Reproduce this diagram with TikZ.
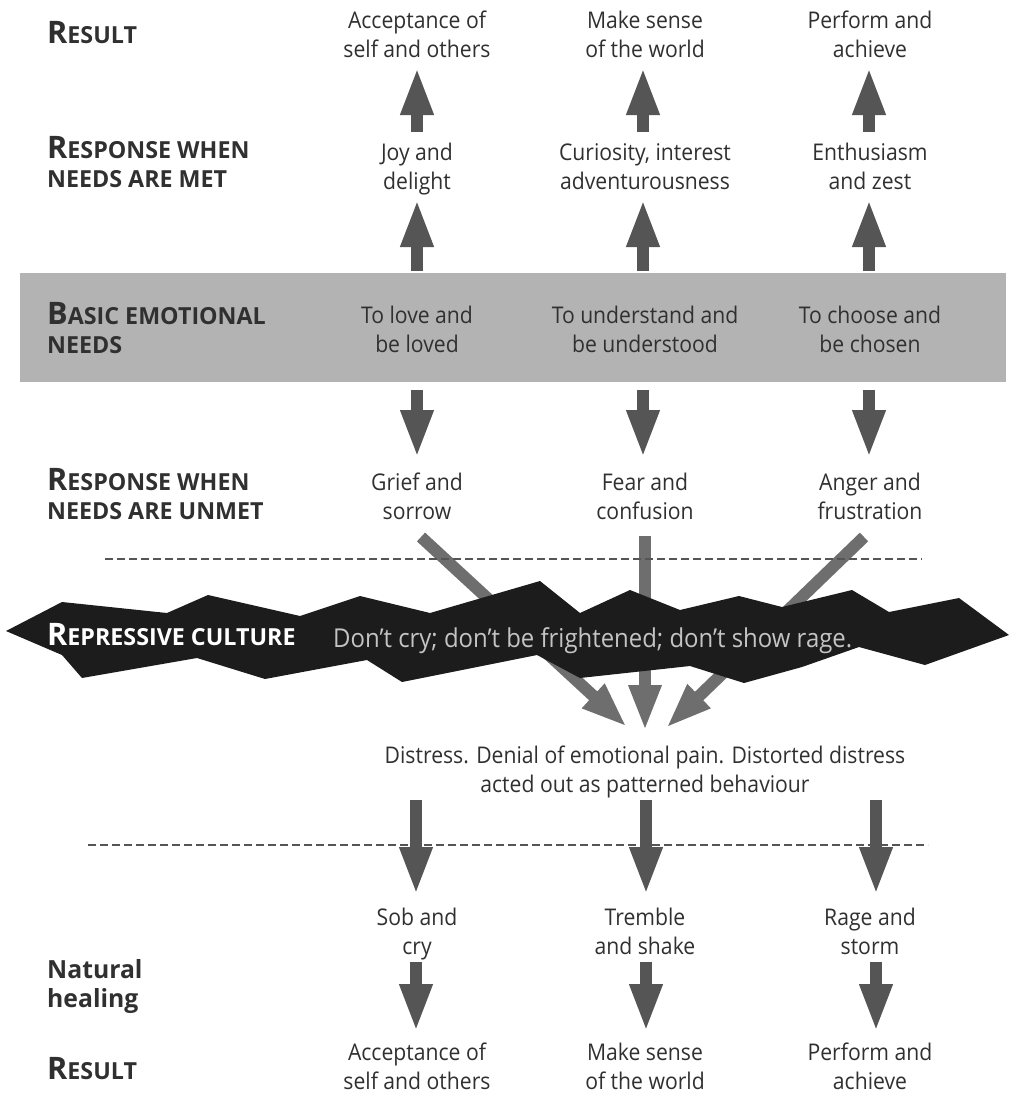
\documentclass[tikz,border=0pt]{standalone}
\usepackage{fontspec}
\setmainfont{Open Sans}[FakeStretch=0.92]
\newfontfamily\lblfont{Open Sans}[FakeStretch=0.99]
\usetikzlibrary{arrows.meta}

\definecolor{ink}{HTML}{303030}
\definecolor{arrowgray}{HTML}{555555}
\definecolor{slantgray}{HTML}{6E6E6E}
\definecolor{needsgray}{HTML}{B3B3B3}
\definecolor{mottogray}{HTML}{C4C4C4}
\definecolor{bandblack}{HTML}{1C1C1C}

% capital followed by smaller capitals
\newcommand\capsc[2]{{\fontsize{31}{31}\selectfont #1}#2}
% two centred / left-aligned lines, baseline on the first line
\newcommand\twoc[2]{\begin{tabular}[t]{@{}c@{}}#1\\#2\end{tabular}}
\newcommand\twol[2]{\begin{tabular}[t]{@{}l@{}}#1\\#2\end{tabular}}

\tikzset{
  txt/.style={inner sep=0pt, anchor=base, text=ink,
    font={\fontsize{23}{29.5}\selectfont}},
  lbl/.style={inner sep=0pt, anchor=base west, text=ink,
    font={\lblfont\bfseries\fontsize{23.5}{29.5}\selectfont}},
  blockarrow/.style={draw=arrowgray, line width=12pt, line cap=butt,
    -{Triangle[width=30pt,length=48pt]}},
  slantarrow/.style={draw=slantgray, line width=12pt, line cap=butt,
    -{Triangle[width=30pt,length=46pt]}},
  divider/.style={draw=arrowgray, line width=1.4pt, dash pattern=on 8pt off 4pt},
}

\begin{document}
\begin{tikzpicture}[x=1pt,y=-1pt]
\useasboundingbox (0,0) rectangle (1012,1106);

% ---------- needs band ----------
\fill[needsgray] (20,273) rectangle (1006,382);

% ---------- row labels ----------
\node[lbl] (lres1) at (47,43) {\capsc{R}{ESULT}};
\node[lbl] (lmet) at (47,158) {\twol{\capsc{R}{ESPONSE WHEN}}{NEEDS ARE MET}};
\node[lbl] (lneeds) at (47,324) {\twol{\capsc{B}{ASIC EMOTIONAL}}{NEEDS}};
\node[lbl] (lunmet) at (47,490) {\twol{\capsc{R}{ESPONSE WHEN}}{NEEDS ARE UNMET}};
\node[lbl, font={\lblfont\bfseries\fontsize{25}{29}\selectfont}] (lheal) at (47,978) {\twol{Natural}{healing}};
\node[lbl] (lres2) at (47,1079) {\capsc{R}{ESULT}};

% ---------- column texts ----------
\node[txt] (res1a) at (417,28) {\twoc{Acceptance of}{self and others}};
\node[txt] (res1b) at (645,28) {\twoc{Make sense}{of the world}};
\node[txt] (res1c) at (870,28) {\twoc{Perform and}{achieve}};

\node[txt] (meta) at (417,160) {\twoc{Joy and}{delight}};
\node[txt] (metb) at (645,160) {\twoc{Curiosity, interest}{adventurousness}};
\node[txt] (metc) at (870,160) {\twoc{Enthusiasm}{and zest}};

\node[txt] (needa) at (417,323) {\twoc{To love and}{be loved}};
\node[txt] (needb) at (645,323) {\twoc{To understand and}{be understood}};
\node[txt] (needc) at (870,323) {\twoc{To choose and}{be chosen}};

\node[txt] (unmeta) at (417,490) {\twoc{Grief and}{sorrow}};
\node[txt] (unmetb) at (645,490) {\twoc{Fear and}{confusion}};
\node[txt] (unmetc) at (870,490) {\twoc{Anger and}{frustration}};

\node[txt] (distress) at (645,763) {\twoc{Distress. Denial of emotional pain. Distorted distress}{acted out as patterned behaviour}};

\node[txt] (heala) at (417,925) {\twoc{Sob and}{cry}};
\node[txt] (healb) at (645,925) {\twoc{Tremble}{and shake}};
\node[txt] (healc) at (870,925) {\twoc{Rage and}{storm}};

\node[txt] (res2a) at (417,1060) {\twoc{Acceptance of}{self and others}};
\node[txt] (res2b) at (645,1060) {\twoc{Make sense}{of the world}};
\node[txt] (res2c) at (870,1060) {\twoc{Perform and}{achieve}};

% ---------- arrow end points ----------
\foreach \c/\x in {a/417, b/643, c/869} {
  \coordinate (up1t\c) at (\x,132);  \coordinate (up1h\c) at (\x,67);
  \coordinate (up2t\c) at (\x,271);  \coordinate (up2h\c) at (\x,199);
  \coordinate (dn1t\c) at (\x,390);  \coordinate (dn1h\c) at (\x,458);
}
\foreach \c/\x in {a/416, b/646, c/876} {
  \coordinate (dn2t\c) at (\x,800);  \coordinate (dn2h\c) at (\x,895);
  \coordinate (dn3t\c) at (\x,962);  \coordinate (dn3h\c) at (\x,1032);
}
\coordinate (slanta) at (421,537);  \coordinate (sinka) at (627,727);
\coordinate (slantb) at (645,536);  \coordinate (sinkb) at (645,731);
\coordinate (slantc) at (864,537);  \coordinate (sinkc) at (666,728);

% ---------- arrows ----------
\foreach \c in {a,b,c} {
  \draw[blockarrow] (up1t\c) -- (up1h\c);
  \draw[blockarrow] (up2t\c) -- (up2h\c);
  \draw[blockarrow] (dn1t\c) -- (dn1h\c);
}
\foreach \c in {a,b,c} {
  \draw[slantarrow] (slant\c) -- (sink\c);
}

% ---------- dividers ----------
\coordinate (div1l) at (105,559); \coordinate (div1r) at (922,559);
\coordinate (div2l) at (88,845);  \coordinate (div2r) at (928,845);
\draw[divider] (div1l) -- (div1r);
\draw[divider] (div2l) -- (div2r);

\foreach \c in {a,b,c} {
  \draw[blockarrow] (dn2t\c) -- (dn2h\c);
  \draw[blockarrow] (dn3t\c) -- (dn3h\c);
}

% ---------- repressive culture band ----------
\fill[bandblack]
  (6,631) -- (62,602) -- (167,613) -- (208,595) -- (300,616) -- (360,596)
  -- (430,613) -- (540,581) -- (580,613) -- (630,590) -- (680,610)
  -- (739,596) -- (782,607) -- (852,590) -- (889,612) -- (959,598)
  -- (1009,635) -- (925,665) -- (859,647) -- (802,667) -- (744,683)
  -- (690,666) -- (580,678) -- (537,655) -- (402,682) -- (367,660)
  -- (340,665) -- (265,679) -- (197,658) -- (82,678) -- (62,655) -- cycle;
\node[lbl, text=white] (lrep) at (47,645) {\capsc{R}{EPRESSIVE CULTURE}};
\node[txt, anchor=base west, text=mottogray, font={\fontsize{26}{30}\selectfont}] (motto) at (333,647)
  {Don’t cry; don’t be frightened; don’t show rage.};
\end{tikzpicture}
\end{document}
